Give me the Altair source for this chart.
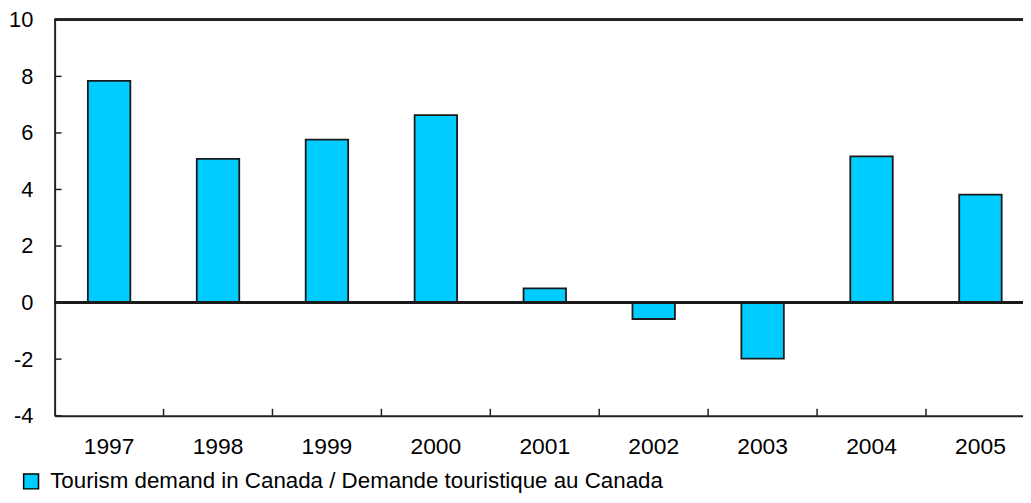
import altair as alt
import pandas as pd

years = ["1997", "1998", "1999", "2000", "2001", "2002", "2003", "2004", "2005"]
values = [7.84, 5.08, 5.76, 6.63, 0.50, -0.58, -1.98, 5.17, 3.82]
series_name = "Tourism demand in Canada / Demande touristique au Canada"
y_ticks = [-4, -2, 0, 2, 4, 6, 8, 10]

df = pd.DataFrame({"year": years, "value": values, "series": [series_name] * len(years)})
boundaries = pd.DataFrame({"year": years[1:]})
yticks_df = pd.DataFrame({"v": y_ticks})

FONT = "Liberation Sans"
H = 399

x_scale = alt.Scale(domain=years, range=[0, 988], paddingInner=0, paddingOuter=0)
y_scale = alt.Scale(domain=[-4, 10], nice=False, zero=False)

bars = alt.Chart(df).mark_bar(
    width=alt.RelativeBandSize(0.39), stroke="#1a1a1a", strokeWidth=1.8
).encode(
    x=alt.X("year:N", scale=x_scale, sort=years,
            axis=alt.Axis(title=None, labelAngle=0, ticks=False, labelPadding=20,
                          labelFont=FONT, labelFontSize=23, labelColor="black",
                          domainColor="#222", domainWidth=2, grid=False)),
    y=alt.Y("value:Q", scale=y_scale,
            axis=alt.Axis(title=None, values=y_ticks, ticks=False, labelPadding=22,
                          labelExpr="'' + datum.value",
                          labelFont=FONT, labelFontSize=22, labelColor="black",
                          domainColor="#222", domainWidth=2, grid=False)),
    color=alt.Color("series:N", scale=alt.Scale(range=["#00CCFF"]),
                    legend=alt.Legend(title=None, orient="none", legendX=-35, legendY=454,
                                      symbolType="square", symbolSize=225,
                                      symbolStrokeColor="black", symbolStrokeWidth=1.5,
                                      labelFont=FONT, labelFontSize=22.5, labelColor="black",
                                      labelOffset=8, padding=0, labelLimit=1000)),
)

zero_line = alt.Chart(df).mark_rule(color="#1a1a1a", strokeWidth=2).encode(
    y=alt.datum(0, scale=y_scale)
)
top_line = alt.Chart(df).mark_rule(color="#222", strokeWidth=2).encode(
    y=alt.datum(10, scale=y_scale)
)
y_tick_marks = alt.Chart(yticks_df).mark_rule(color="#222", strokeWidth=1.5).encode(
    y=alt.Y("v:Q", scale=y_scale),
    x=alt.value(0),
    x2=alt.value(7),
)
x_tick_marks = alt.Chart(boundaries).mark_rule(color="#222", strokeWidth=1.5).encode(
    x=alt.X("year:N", scale=x_scale, sort=years, bandPosition=0),
    y=alt.value(H - 7),
    y2=alt.value(H),
)

chart = alt.layer(bars, zero_line, top_line, y_tick_marks, x_tick_marks).properties(
    width=976, height=H,
    autosize=alt.AutoSizeParams(type="none"),
    padding={"left": 47, "top": 10, "right": 0, "bottom": 78},
).configure_view(stroke=None).configure(background="white")

chart.save("out.html", embed_options={"renderer": "svg", "actions": False})
